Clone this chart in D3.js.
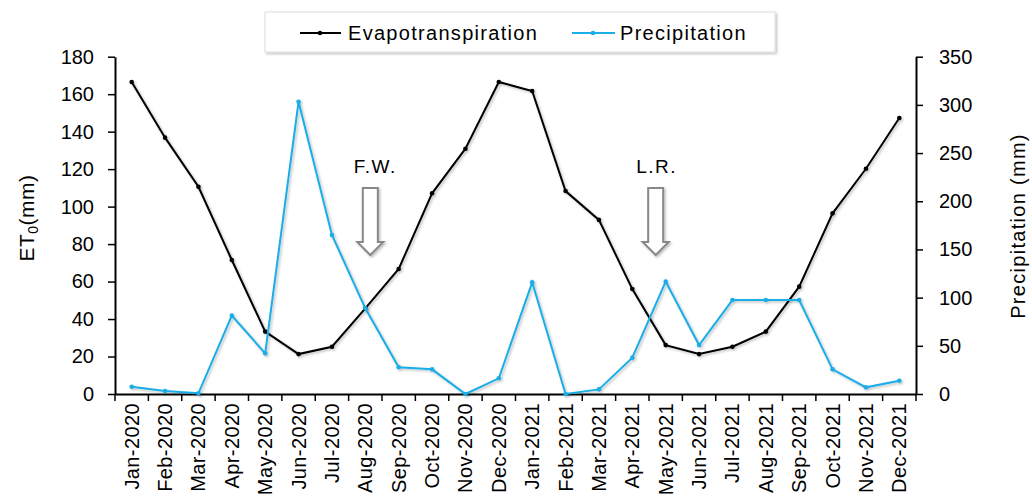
<!DOCTYPE html>
<html><head><meta charset="utf-8">
<script src="https://cdn.jsdelivr.net/npm/d3@7"></script>
<style>body{margin:0;background:#fff;} svg{font-family:"Liberation Sans",Arial,sans-serif;}</style>
</head><body>
<svg id="c" width="1032" height="504"></svg>
<script>
const months = ["Jan-2020","Feb-2020","Mar-2020","Apr-2020","May-2020","Jun-2020","Jul-2020","Aug-2020","Sep-2020","Oct-2020","Nov-2020","Dec-2020",
"Jan-2021","Feb-2021","Mar-2021","Apr-2021","May-2021","Jun-2021","Jul-2021","Aug-2021","Sep-2021","Oct-2021","Nov-2021","Dec-2021"];
const et0 = [166.5,136.8,110.6,71.5,33.3,21.3,25.2,45.7,66.7,107.1,130.9,166.5,161.7,108.3,92.9,56.0,26.1,21.3,25.2,33.3,57.3,96.4,120.2,147.3];
const precip = [7.6,3.1,0.7,81.3,42.2,303.3,165,88.9,27.7,25.6,0,16.3,115.9,0,4.8,37.7,116.6,50.8,97.5,97.5,97.5,25.6,6.9,13.8];
const leftTicks = [0,20,40,60,80,100,120,140,160,180];
const rightTicks = [0,50,100,150,200,250,300,350];
const annotations = [{label:"F.W.", month:"Aug-2020"},{label:"L.R.", month:"May-2021"}];

const svg = d3.select("#c");
const L=115, R=916, T=56.7, B=394;
const x = d3.scaleBand().domain(months).range([L,R]);
const yL = d3.scaleLinear().domain([0,180]).range([B,T]);
const yR = d3.scaleLinear().domain([0,350]).range([B,T]);
const blue = "#1AADE6";

const defs = svg.append("defs");
const f = defs.append("filter").attr("id","sh").attr("x","-20%").attr("y","-20%").attr("width","140%").attr("height","140%");
f.append("feDropShadow").attr("dx",1.5).attr("dy",1.5).attr("stdDeviation",1).attr("flood-color","#000").attr("flood-opacity",0.25);

// axes
const axL = svg.append("g").attr("transform",`translate(${L},0)`)
  .call(d3.axisLeft(yL).tickValues(leftTicks).tickSize(7).tickSizeOuter(0));
const axR = svg.append("g").attr("transform",`translate(${R},0)`)
  .call(d3.axisRight(yR).tickValues(rightTicks).tickSize(7).tickSizeOuter(0));
const axB = svg.append("g").attr("transform",`translate(0,${B})`)
  .call(d3.axisBottom(x).tickSize(0).tickFormat(""));
[axL,axR,axB].forEach(a=>{a.selectAll("path").attr("stroke","#000").attr("stroke-width",2);a.selectAll("line").attr("stroke","#000").attr("stroke-width",1.5);});
axL.selectAll("text").attr("font-size",20).attr("fill","#000").attr("dx",-11);
axR.selectAll("text").attr("font-size",20).attr("fill","#000").attr("dx",13);
// bottom boundary ticks
const bounds = months.map(m=>x(m)).concat([R]);
svg.append("g").selectAll("line").data(bounds).join("line")
  .attr("x1",d=>d).attr("x2",d=>d).attr("y1",B).attr("y2",B+7).attr("stroke","#000").attr("stroke-width",1.5);
// x labels
svg.append("g").selectAll("text").data(months).join("text")
  .attr("transform",d=>`translate(${x(d)+x.bandwidth()/2+7},${B+9}) rotate(-90)`)
  .attr("text-anchor","end").attr("font-size",20).attr("letter-spacing",0.4).text(d=>d);

// axis titles
const tl = svg.append("text").attr("transform","translate(34,218) rotate(-90)").attr("text-anchor","middle").attr("font-size",21).attr("letter-spacing",0.5);
tl.append("tspan").text("ET");
tl.append("tspan").attr("font-size",14).attr("dy",4).text("0");
tl.append("tspan").attr("dy",-4).text("(mm)");
svg.append("text").attr("transform","translate(1025,226) rotate(-90)").attr("text-anchor","middle").attr("font-size",20).attr("letter-spacing",1.3).text("Precipitation (mm)");

// lines
const cx = d=>x(d)+x.bandwidth()/2;
const lineL = d3.line().x((d,i)=>cx(months[i])).y(d=>yL(d));
const lineR = d3.line().x((d,i)=>cx(months[i])).y(d=>yR(d));
const gE = svg.append("g").attr("filter","url(#sh)");
gE.append("path").datum(et0).attr("d",lineL).attr("fill","none").attr("stroke","#000").attr("stroke-width",2);
gE.selectAll("circle").data(et0).join("circle").attr("cx",(d,i)=>cx(months[i])).attr("cy",d=>yL(d)).attr("r",2.3).attr("fill","#000");
const gP = svg.append("g").attr("filter","url(#sh)");
gP.append("path").datum(precip).attr("d",lineR).attr("fill","none").attr("stroke",blue).attr("stroke-width",2);
gP.selectAll("circle").data(precip).join("circle").attr("cx",(d,i)=>cx(months[i])).attr("cy",d=>yR(d)).attr("r",2.3).attr("fill",blue);

// annotations
annotations.forEach((a,k)=>{
  const ax = cx(a.month) + (k===0?5:-10);
  svg.append("text").attr("x",ax+(k===0?5:1)).attr("y",173).attr("text-anchor","middle").attr("font-size",19).attr("letter-spacing",1.5).text(a.label);
  const sw=7.5, hw=13, top=188, hy=242, bot=255;
  const p = `M${ax-sw},${top} L${ax+sw},${top} L${ax+sw},${hy} L${ax+hw},${hy} L${ax},${bot} L${ax-hw},${hy} L${ax-sw},${hy} Z`;
  svg.append("path").attr("d",p).attr("fill","#fff").attr("stroke","#888").attr("stroke-width",2).attr("filter","url(#sh)");
});

// legend
const lg = svg.append("g");
lg.append("rect").attr("x",265).attr("y",12).attr("width",510).attr("height",40).attr("fill","#fff").attr("stroke","#ddd").attr("filter","url(#sh)");
lg.append("line").attr("x1",300).attr("x2",341).attr("y1",33).attr("y2",33).attr("stroke","#000").attr("stroke-width",2);
lg.append("circle").attr("cx",320).attr("cy",33).attr("r",2.3).attr("fill","#000");
lg.append("text").attr("x",348).attr("y",40).attr("font-size",20).attr("letter-spacing",1.3).text("Evapotranspiration");
lg.append("line").attr("x1",572).attr("x2",615).attr("y1",33).attr("y2",33).attr("stroke",blue).attr("stroke-width",2);
lg.append("circle").attr("cx",593).attr("cy",33).attr("r",2.3).attr("fill",blue);
lg.append("text").attr("x",620).attr("y",40).attr("font-size",20).attr("letter-spacing",1.3).text("Precipitation");
</script>
</body></html>
